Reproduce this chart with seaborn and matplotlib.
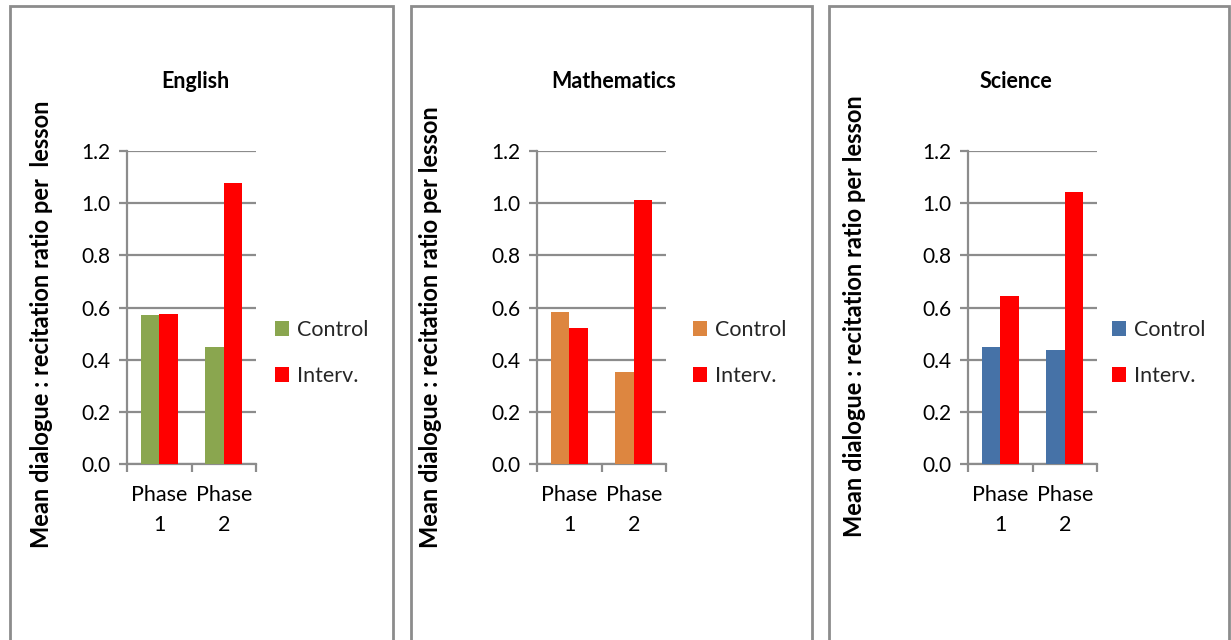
import matplotlib
matplotlib.use("Agg")
import matplotlib.pyplot as plt
import seaborn as sns
import pandas as pd
from matplotlib.patches import Rectangle

subjects = ["English", "Mathematics", "Science"]
phases = ["Phase\n1", "Phase\n2"]
groups = ["Control", "Interv."]
control_vals = {"English": [0.571, 0.450], "Mathematics": [0.582, 0.352], "Science": [0.447, 0.438]}
interv_vals = {"English": [0.575, 1.076], "Mathematics": [0.520, 1.012], "Science": [0.644, 1.044]}
control_colors = {"English": "#8AA64F", "Mathematics": "#DD8640", "Science": "#4672A7"}
interv_color = "#FF0000"
ylabels = {"English": "Mean dialogue : recitation ratio per  lesson",
           "Mathematics": "Mean dialogue : recitation ratio per lesson",
           "Science": "Mean dialogue : recitation ratio per lesson"}
yticks = [0.0, 0.2, 0.4, 0.6, 0.8, 1.0, 1.2]

sns.set_theme(style="white")
plt.rcParams["font.family"] = ["Lato", "DejaVu Sans"]

W, H = 1231, 640
fig = plt.figure(figsize=(W / 100, H / 100), dpi=100)
fig.patch.set_facecolor("white")

def fx(px):
    return px / W

def fy(py):
    return 1 - py / H

GRAY = "#8C8C8C"
FS = 15.5
boxes = [(10, 393), (411, 812), (829, 1229)]
axes_left = [127, 537, 968]
axes_right = [256, 666, 1097]
title_x = [195, 614, 1016]
ylabel_x = [42, 431, 855]
ylabel_bottom = [548, 548, 537]
legend_x = [275, 693, 1112]

for i, subj in enumerate(subjects):
    # panel border
    x0, x1 = boxes[i]
    fig.patches.append(Rectangle((fx(x0), fy(660)), fx(x1 - x0), fy(6) - fy(660),
                                 transform=fig.transFigure, fill=False,
                                 edgecolor=GRAY, linewidth=2, zorder=0))
    ax = fig.add_axes([fx(axes_left[i]), fy(464), fx(axes_right[i] - axes_left[i]), fy(151) - fy(464)])
    df = pd.DataFrame({
        "phase": phases * 2,
        "group": [groups[0]] * 2 + [groups[1]] * 2,
        "value": control_vals[subj] + interv_vals[subj],
    })
    sns.barplot(data=df, x="phase", y="value", hue="group", order=phases, hue_order=groups,
                palette=[control_colors[subj], interv_color], width=0.57, saturation=1,
                linewidth=0, ax=ax, zorder=3)
    ax.set_xlim(-0.5, 1.5)
    ax.set_ylim(0, 1.2)
    ax.set_yticks(yticks)
    ax.set_yticklabels([f"{v:.1f}" for v in yticks])
    ax.set_xlabel("")
    ax.set_ylabel("")
    ax.grid(axis="y", color=GRAY, linewidth=1.6, zorder=0)
    ax.set_axisbelow(True)
    for s in ["top", "right"]:
        ax.spines[s].set_visible(False)
    for s in ["left", "bottom"]:
        ax.spines[s].set_color(GRAY)
        ax.spines[s].set_linewidth(1.6)
    ax.tick_params(axis="y", length=6, width=1.6, color=GRAY, labelsize=15, pad=6, left=True)
    ax.tick_params(axis="x", which="major", length=0, labelsize=FS, pad=15)
    ax.set_xticks([-0.5, 0.5, 1.5], minor=True)
    ax.tick_params(axis="x", which="minor", length=6, width=1.6, color=GRAY, bottom=True)
    for lab in ax.get_xticklabels():
        lab.set_linespacing(1.65)
    for lab in ax.get_xticklabels() + ax.get_yticklabels():
        lab.set_color("#000000")
    handles, labels = ax.get_legend_handles_labels()
    if ax.get_legend() is not None:
        ax.get_legend().remove()
    ax.legend(handles, labels, loc="center left", bbox_to_anchor=(fx(legend_x[i]), fy(353)),
              bbox_transform=fig.transFigure, frameon=False, fontsize=FS,
              handlelength=0.65, handleheight=0.65, handletextpad=0.35,
              labelspacing=1.2, borderpad=0, borderaxespad=0)
    fig.text(fx(title_x[i]), fy(81), subj, ha="center", va="center",
             fontsize=FS, fontweight="bold", color="black")
    fig.text(fx(ylabel_x[i]), fy(ylabel_bottom[i]), ylabels[subj], rotation=90,
             ha="center", va="bottom", fontsize=17, fontweight="bold", color="black")

fig.savefig("out.png", dpi=100)
